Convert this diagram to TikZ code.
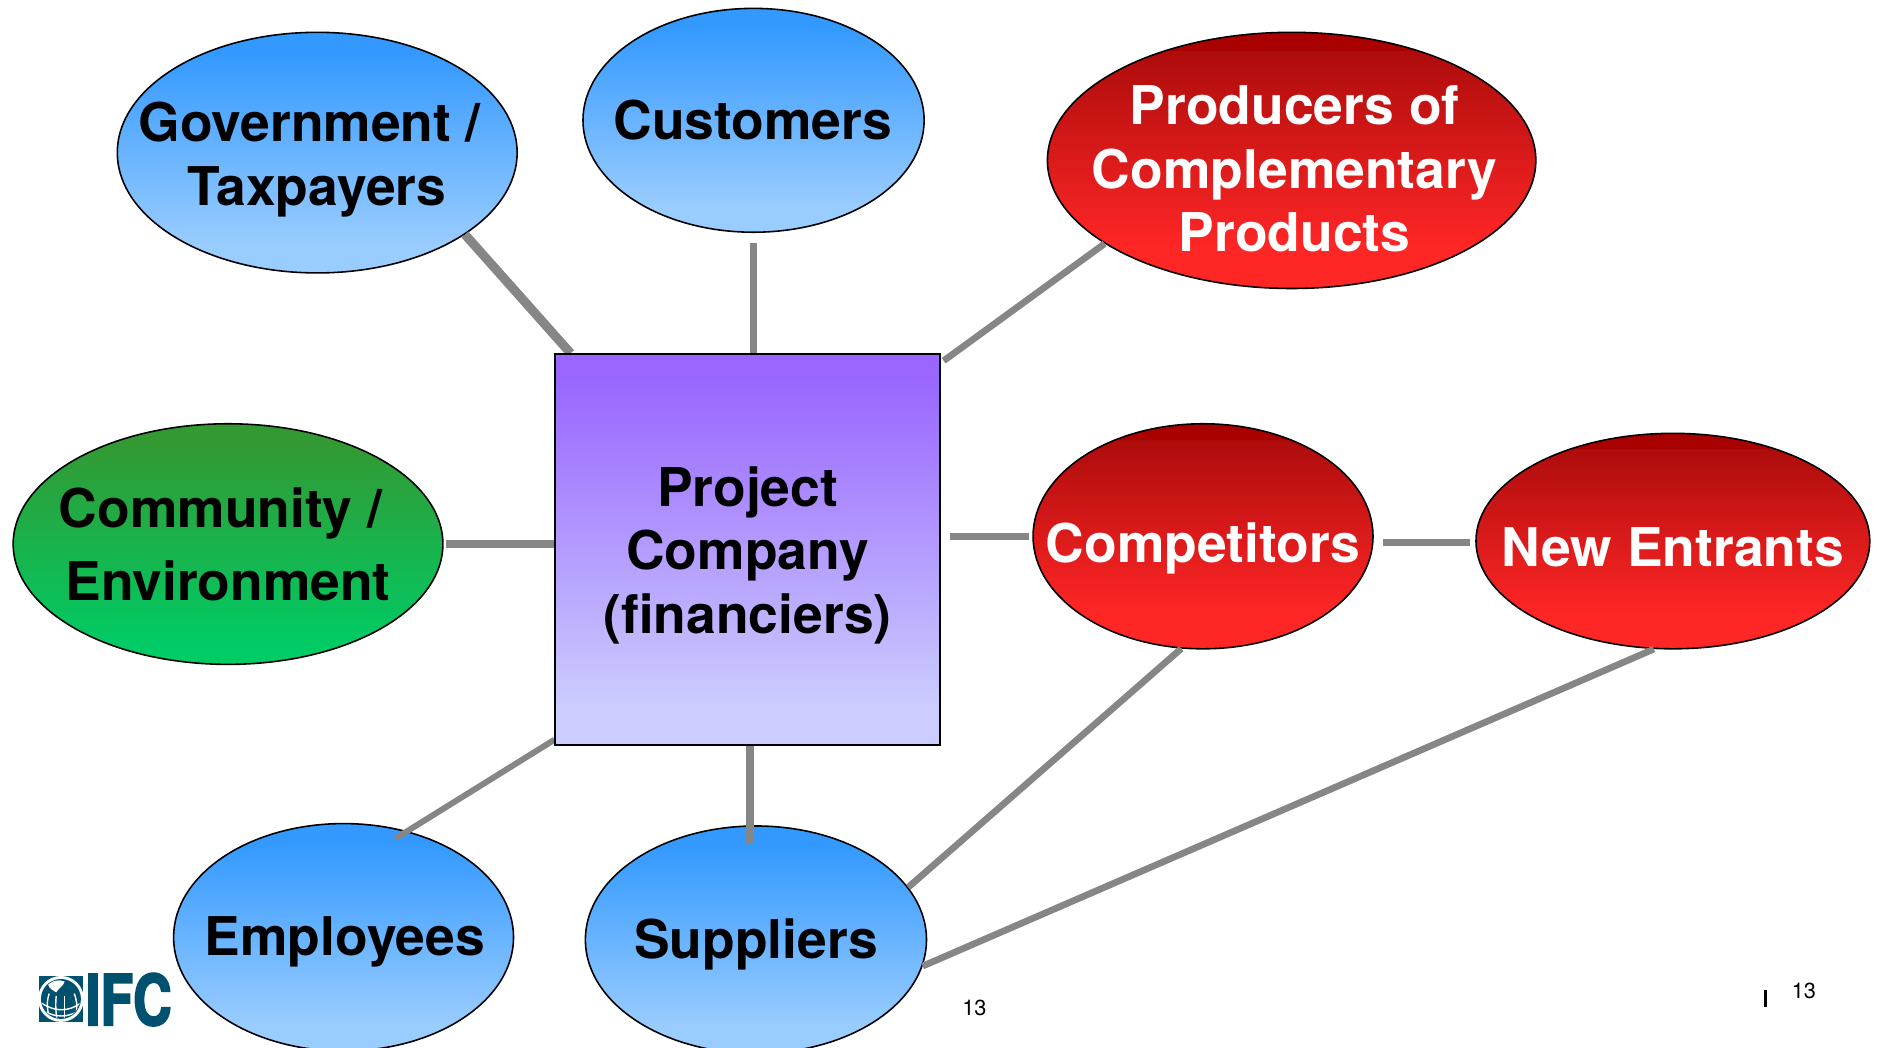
\documentclass[tikz,border=0pt]{standalone}
\usepackage{fontspec}
\setmainfont{TeX Gyre Heros}
\newfontfamily\logof[FakeStretch=0.76,FakeBold=2.5]{TeX Gyre Heros}
\usetikzlibrary{shapes.geometric,calc}
\pgfdeclarelayer{top}
\pgfsetlayers{main,top}
\definecolor{linegray}{HTML}{868686}
\definecolor{ifcblue}{HTML}{00506F}
\definecolor{blue1}{HTML}{3399FF}
\definecolor{blue2}{HTML}{99CCFF}
\definecolor{red1}{HTML}{A90000}
\definecolor{red1b}{HTML}{AE0C0C}
\definecolor{red2}{HTML}{FF2626}
\definecolor{green1}{HTML}{339933}
\definecolor{green2}{HTML}{00CC66}
\definecolor{purple1}{HTML}{9966FF}
\definecolor{purple2}{HTML}{CCCCFF}
\pgfdeclareverticalshading{redgrad}{100bp}{color(0bp)=(red2); color(33bp)=(red2); color(71.4bp)=(red1b); color(71.5bp)=(red1); color(100bp)=(red1)}
\pgfdeclareverticalshading{bluegrad}{100bp}{color(0bp)=(blue2); color(31bp)=(blue2); color(71bp)=(blue1); color(100bp)=(blue1)}
\pgfdeclareverticalshading{greengrad}{100bp}{color(0bp)=(green2); color(28bp)=(green2); color(71bp)=(green1); color(100bp)=(green1)}
\pgfdeclareverticalshading{purplegrad}{100bp}{color(0bp)=(purple2); color(30bp)=(purple2); color(72bp)=(purple1); color(100bp)=(purple1)}
\tikzset{
  x=0.011971cm, y=-0.011971cm,
  label font/.style={font=\fontsize{15.2}{18.2}\selectfont\bfseries, align=center, inner sep=0pt},
  bluefill/.style={shade, shading=bluegrad},
  redfill/.style={shade, shading=redgrad},
  greenfill/.style={shade, shading=greengrad},
  link/.style={draw=linegray, line cap=butt},
  pagenum/.style={font=\fontsize{6.2}{8}\selectfont, inner sep=0pt},
  gridline/.style={white, line width=0.4pt},
}
\newcommand{\stakeoval}[6]{% name cx cy rx ry style
  \node[ellipse, draw=black, line width=0.45pt, inner sep=0pt, #6,
        minimum width=2*#4*0.011971cm, minimum height=2*#5*0.011971cm] (#1) at (#2,#3) {};
}
\begin{document}
\begin{tikzpicture}
\useasboundingbox (0,0) rectangle (1568,875);
% stakeholder ovals
\stakeoval{gov}{265}{127.5}{167}{100.5}{bluefill}
\stakeoval{cust}{629.5}{100.5}{142.5}{93.5}{bluefill}
\stakeoval{prod}{1079}{134}{204}{107}{redfill}
\stakeoval{comm}{190.5}{454.5}{179.5}{100.5}{greenfill}
\stakeoval{compet}{1005}{448}{142}{94}{redfill}
\stakeoval{newent}{1397.5}{452}{164.5}{90}{redfill}
\stakeoval{empl}{287}{783}{142}{95}{bluefill}
\stakeoval{supp}{631.5}{785}{142.5}{95}{bluefill}
% project company
\begin{pgfonlayer}{top}
\node[rectangle, draw=black, line width=0.6pt, inner sep=0pt, shade, shading=purplegrad,
      minimum width=321*0.011971cm, minimum height=326*0.011971cm] (box) at (624.5,459) {};
\end{pgfonlayer}
% connectors
\draw[link, line width=2.6pt] (gov.-29.5) -- ($(box.north west)!0.042!(box.north east)$);
\draw[link, line width=2.1pt, shorten <=0.096cm] (cust.south) -- (box.north -| cust.south);
\draw[link, line width=1.9pt, shorten >=0.036cm] (prod.204.1) -- (box.44);
\draw[link, line width=2.2pt, shorten <=0.024cm] (comm.0.5) -- (comm.0.5 -| box.west);
\draw[link, line width=2.1pt, shorten <=0.096cm, shorten >=0.036cm] (box.east |- compet.west) -- (compet.west);
\draw[link, line width=2.1pt, shorten <=0.096cm, shorten >=0.048cm] (compet.-2) -- (compet.-2 -| newent.west);
\draw[link, line width=1.9pt] (compet.259.75) -- (supp.19.6);
\draw[link, line width=1.9pt] (newent.260.85) -- (supp.-9.3);
\draw[link, line width=1.7pt, shorten >=-0.14cm] ($(box.north west)!0.985!(box.south west)$) -- (empl.59.2);
\draw[link, line width=2.1pt, shorten >=-0.18cm] (supp.93.3 |- box.south) -- (supp.93.3);
% labels
\node[label font] (tgov) at (265,133) {Government /\hspace*{0.278em}\\Taxpayers};
\node[label font] (tcust) at (629,100) {Customers};
\node[label font, text=white] (tprod) at (1081.5,141) {Producers of\\Complementary\\Products};
\node[label font, font=\fontsize{15.2}{20.8}\selectfont\bfseries] (tcomm) at (190.5,455) {Community /\hspace*{0.278em}\\Environment};
\node[label font, text=white] (tcompet) at (1005,458) {Competitors};
\node[label font, text=white] (tnew) at (1397.5,457) {New Entrants};
\node[label font] (templ) at (288,787) {Employees};
\node[label font] (tsupp) at (631.5,789) {Suppliers};
\begin{pgfonlayer}{top}
\node[label font] (tbox) at (624.5,464) {Project\\Company\\(financiers)};
\end{pgfonlayer}
% page numbers
\node[pagenum] (pn1) at (814,842) {13};
\node[pagenum] (pn2) at (1507,828) {13};
\node[fill=black, inner sep=0pt, minimum width=0.7pt, minimum height=4.7pt] (tick) at (1475,834) {};
% logo
\node[fill=ifcblue, inner sep=0pt, minimum width=44*0.01cm, minimum height=46*0.01cm] (globesq) at (50.9,834.5) {};
\node[circle, fill=white, inner sep=0pt, minimum size=46*0.01cm] (globering) at (50.9,834.5) {};
\node[circle, fill=ifcblue, inner sep=0pt, minimum size=40*0.01cm] (globe) at (50.9,834.5) {};
\begin{scope}
\clip (50.9,834.5) circle[radius=16];
\draw[gridline] (32,836) .. controls (45,846) and (58,846) .. (70,836);
\draw[gridline] (33,842) .. controls (45,851) and (58,851) .. (69,842);
\draw[gridline] (36,847) .. controls (45,855) and (58,855) .. (66,847);
\draw[gridline] (41,830) .. controls (38,840) and (40,848) .. (44,856);
\draw[gridline] (47,832) .. controls (46,840) and (47,848) .. (48,856);
\draw[gridline] (54,832) -- (54,856);
\draw[gridline] (62,830) .. controls (66,840) and (64,848) .. (60,856);
\fill[white] (40,822) .. controls (43,819) and (50,818) .. (54,820) .. controls (53,824) and (49,825) .. (47,829) .. controls (44,827) and (41,826) .. (40,822) -- cycle;
\end{scope}
\node[font=\logof\fontsize{20}{21}\selectfont\bfseries, text=ifcblue, inner sep=0pt] (ifc) at (107.5,835) {IFC};
\end{tikzpicture}
\end{document}
